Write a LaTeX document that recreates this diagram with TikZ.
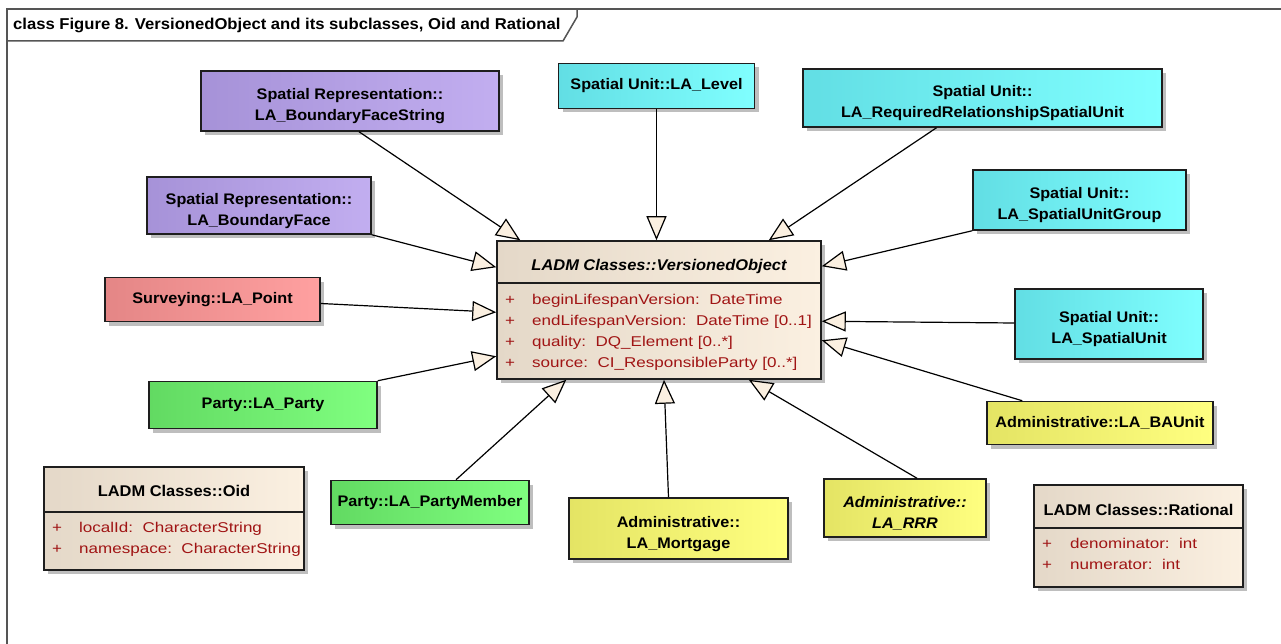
\documentclass[tikz,border=0pt]{standalone}
\usepackage{fontspec}
\setmainfont{Liberation Sans}
\newfontfamily\namefont{Liberation Sans}[FakeStretch=1.06]
\newfontfamily\attrfont{Liberation Sans}[FakeStretch=1.2]
\usetikzlibrary{arrows.meta,shadows,calc}

\definecolor{frameline}{RGB}{85,85,85}
\definecolor{boxline}{RGB}{30,30,30}
\definecolor{shadowgray}{RGB}{190,190,190}
\definecolor{beigeL}{RGB}{228,216,200}
\definecolor{beigeR}{RGB}{251,240,225}
\definecolor{purpL}{RGB}{166,146,216}
\definecolor{purpR}{RGB}{194,174,240}
\definecolor{cyanL}{RGB}{98,222,228}
\definecolor{cyanR}{RGB}{128,255,255}
\definecolor{redL}{RGB}{228,134,134}
\definecolor{redR}{RGB}{255,160,160}
\definecolor{greenL}{RGB}{98,218,98}
\definecolor{greenR}{RGB}{128,255,128}
\definecolor{yellowL}{RGB}{228,228,100}
\definecolor{yellowR}{RGB}{255,255,128}
\definecolor{attrred}{RGB}{160,20,20}

% tall strut that lowers two-line class names inside their boxes
\newcommand{\lowerline}{\rule{0pt}{22pt}}

\tikzset{
  classbox/.style={draw=boxline, line width=1.5pt, inner sep=0pt, align=center,
    font=\namefont\fontsize{15.3}{21}\selectfont\bfseries,
    drop shadow={shadow xshift=4pt, shadow yshift=-4pt, opacity=1, fill=shadowgray}},
  purplefill/.style={left color=purpL, middle color=purpR, right color=purpR},
  cyanfill/.style={left color=cyanL, middle color=cyanR, right color=cyanR},
  redfill/.style={left color=redL, middle color=redR, right color=redR},
  greenfill/.style={left color=greenL, middle color=greenR, right color=greenR},
  yellowfill/.style={left color=yellowL, middle color=yellowR, right color=yellowR},
  beigefill/.style={left color=beigeL, middle color=beigeR, right color=beigeR},
  divider/.style={draw=boxline, line width=1.5pt},
  classtitle/.style={inner sep=0pt, anchor=base, font=\namefont\fontsize{15.5}{21}\selectfont\bfseries},
  attr/.style={inner sep=0pt, anchor=base west, text=attrred, font=\attrfont\fontsize{14.2}{21}\selectfont},
  gen/.style={draw=black, line width=1.2pt,
    -{Triangle[length=24pt, width=20pt, fill=beigeR]}},
}

\begin{document}
\begin{tikzpicture}[x=1pt, y=-1pt]
\useasboundingbox (0,0) rectangle (1281,644);

% diagram frame and its name tab
\draw[frameline, line width=2pt] (7,644) -- (7,9) -- (1281,9);
\draw[frameline, line width=1.5pt] (7,41) -- (563,41) -- (577,17) -- (577,9);
\node[inner sep=0pt, anchor=base west, font=\namefont\fontsize{15.7}{20}\selectfont\bfseries]
  (frametitle) at (13,30) {class Figure 8. VersionedObject and its subclasses, Oid and Rational};

% central abstract class
\node[classbox, beigefill, minimum width=324pt, minimum height=138pt] (vo) at (659,310) {};
\draw[divider] (vo.west |- 0,283) -- (vo.east |- 0,283);
\node[classtitle, font=\namefont\fontsize{15.5}{21}\selectfont\bfseries\itshape] (votitle) at (659,270) {LADM Classes::VersionedObject};
\node[attr] (voa1p) at (505,304) {+};
\node[attr] (voa1) at (532,304) {beginLifespanVersion:\ \ DateTime};
\node[attr] (voa2p) at (505,325.5) {+};
\node[attr] (voa2) at (532,325.5) {endLifespanVersion:\ \ DateTime [0..1]};
\node[attr] (voa3p) at (505,346.5) {+};
\node[attr] (voa3) at (532,346.5) {quality:\ \ DQ\_Element [0..*]};
\node[attr] (voa4p) at (505,367.5) {+};
\node[attr] (voa4) at (532,367.5) {source:\ \ CI\_ResponsibleParty [0..*]};

% subclasses
\node[classbox, purplefill, minimum width=298pt, minimum height=60pt] (bfs) at (350,101)
  {\lowerline Spatial Representation::\\LA\_BoundaryFaceString};
\node[classbox, purplefill, minimum width=224pt, minimum height=57pt] (bf) at (259,205.5)
  {\lowerline Spatial Representation::\\LA\_BoundaryFace};
\node[classbox, cyanfill, minimum width=196pt, minimum height=45pt] (level) at (656.5,86)
  {Spatial Unit::LA\_Level};
\node[classbox, cyanfill, minimum width=359pt, minimum height=58pt] (rrsu) at (982.5,98)
  {\lowerline Spatial Unit::\\LA\_RequiredRelationshipSpatialUnit};
\node[classbox, cyanfill, minimum width=213pt, minimum height=60pt] (sug) at (1079.5,200)
  {\lowerline Spatial Unit::\\LA\_SpatialUnitGroup};
\node[classbox, redfill, minimum width=215pt, minimum height=44pt] (point) at (212.5,299.5)
  {Surveying::LA\_Point};
\node[classbox, greenfill, minimum width=228pt, minimum height=47pt] (party) at (263,405)
  {Party::LA\_Party};
\node[classbox, cyanfill, minimum width=188pt, minimum height=70pt] (su) at (1109,324)
  {\lowerline Spatial Unit::\\LA\_SpatialUnit};
\node[classbox, yellowfill, minimum width=226pt, minimum height=43pt] (baunit) at (1100,423)
  {Administrative::LA\_BAUnit};
\node[classbox, greenfill, minimum width=198pt, minimum height=44pt] (pm) at (430,502.5)
  {Party::LA\_PartyMember};
\node[classbox, yellowfill, minimum width=219pt, minimum height=61pt] (mort) at (678.5,528.5)
  {\lowerline Administrative::\\LA\_Mortgage};
\node[classbox, yellowfill, minimum width=162pt, minimum height=58pt,
  font=\namefont\fontsize{15.3}{21}\selectfont\bfseries\itshape] (rrr) at (905,508)
  {\lowerline Administrative::\\LA\_RRR};

% data types
\node[classbox, beigefill, minimum width=260pt, minimum height=103pt] (oid) at (174,518.5) {};
\draw[divider] (oid.west |- 0,512) -- (oid.east |- 0,512);
\node[classtitle] (oidtitle) at (174,496) {LADM Classes::Oid};
\node[attr] (oida1p) at (52,532.5) {+};
\node[attr] (oida1) at (79,532.5) {localId:\ \ CharacterString};
\node[attr] (oida2p) at (52,553.5) {+};
\node[attr] (oida2) at (79,553.5) {namespace:\ \ CharacterString};

\node[classbox, beigefill, minimum width=209pt, minimum height=102pt] (rat) at (1138.5,536) {};
\draw[divider] (rat.west |- 0,528) -- (rat.east |- 0,528);
\node[classtitle] (rattitle) at (1138.5,515) {LADM Classes::Rational};
\node[attr] (rata1p) at (1042,548.5) {+};
\node[attr] (rata1) at (1070,548.5) {denominator:\ \ int};
\node[attr] (rata2p) at (1042,569.5) {+};
\node[attr] (rata2) at (1070,569.5) {numerator:\ \ int};

% generalisations
\draw[gen] ([xshift=9pt]bfs.south) -- ([xshift=24pt]vo.north west);
\draw[gen] (bf.south east) -- ([yshift=-27pt]vo.north west);
\draw[gen] (level.south) -- (level.south |- vo.north);
\draw[gen] ([xshift=-46pt]rrsu.south) -- ([xshift=-53pt]vo.north east);
\draw[gen] (sug.south west) -- ([yshift=-26pt]vo.north east);
\draw[gen] ([yshift=-4pt]point.east) -- ([yshift=-72pt]vo.north west);
\draw[gen] (party.north east) -- ([yshift=-116pt]vo.north west);
\draw[gen] ([yshift=1pt]su.west) -- ([yshift=-81pt]vo.north east);
\draw[gen] ([xshift=36pt]baunit.north west) -- ([yshift=-100pt]vo.north east);
\draw[gen] ([xshift=26pt]pm.north) -- ([xshift=70pt]vo.south west);
\draw[gen] ([xshift=-10pt]mort.north) -- ([xshift=5pt]vo.south);
\draw[gen] ([xshift=12pt]rrr.north) -- ([xshift=-73pt]vo.south east);
\end{tikzpicture}
\end{document}
